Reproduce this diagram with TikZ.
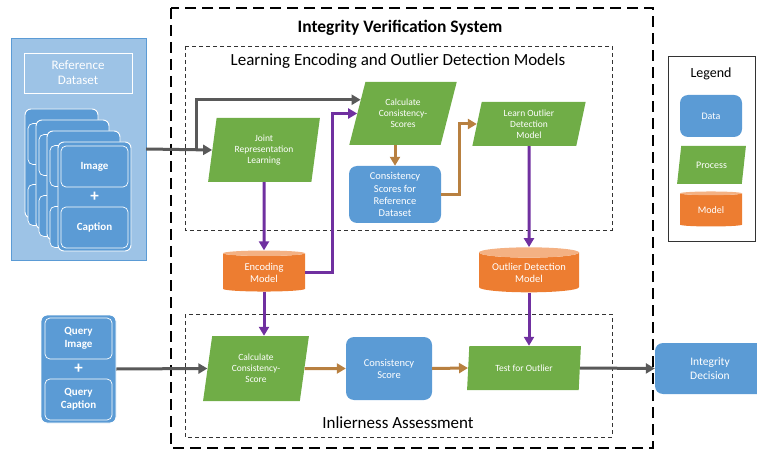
\documentclass[tikz,border=0pt]{standalone}
\usepackage{fontspec}
\setmainfont{Carlito}
\usetikzlibrary{shapes.geometric,arrows.meta,positioning}
\definecolor{datablue}{RGB}{91,155,213}
\definecolor{paleblue}{RGB}{157,195,230}
\definecolor{procgreen}{RGB}{112,173,71}
\definecolor{modelorange}{RGB}{237,125,49}
\definecolor{modeltop}{RGB}{244,177,131}
\definecolor{flowpurple}{RGB}{112,48,160}
\definecolor{flowbrown}{RGB}{184,128,64}
\definecolor{flowgray}{RGB}{89,89,89}
\newcommand{\fs}[1]{\fontsize{#1}{1.15\dimexpr#1pt\relax}\selectfont}

\begin{document}
\begin{tikzpicture}[x=1pt,y=-1pt]
\tikzset{
  data/.style={rectangle, rounded corners=8pt, fill=datablue, text=white,
    align=center, font=\fs{10.5}},
  process/.style={trapezium, trapezium left angle=80, trapezium right angle=100,
    trapezium stretches=true, fill=procgreen, text=white, align=center,
    inner sep=0pt, font=\fs{9.5}},
  model/.style={cylinder, shape border rotate=90, aspect=0.14,
    cylinder uses custom fill, cylinder body fill=modelorange,
    cylinder end fill=modeltop, text=white, align=center, inner sep=0pt,
    font=\fs{10.5}},
  card/.style={rectangle, rounded corners=6pt, draw=white, line width=0.9pt,
    fill=datablue, minimum width=73, minimum height=109},
  cardbox/.style={rectangle, rounded corners=5pt, draw=white, line width=0.7pt,
    fill=datablue, text=white, align=center, minimum width=67,
    minimum height=41, font=\fs{11}\bfseries},
  plus/.style={text=white, font=\fs{17}\bfseries, inner sep=0pt},
  gflow/.style={line width=3pt, draw=flowgray, -{Triangle[length=9pt,width=10pt]}},
  pflow/.style={line width=3pt, draw=flowpurple, -{Triangle[length=9pt,width=10pt]}},
  bflow/.style={line width=3pt, draw=flowbrown, -{Triangle[length=9pt,width=10pt]}},
  frame/.style={font=\fs{17}}
}
\useasboundingbox (0,0) rectangle (757,454);

\draw[line width=2pt, dash pattern=on 11pt off 6pt] (171,8) rectangle (653,448);
\node[font=\fs{17.5}\bfseries] (systitle) at (400,28) {Integrity Verification System};
\draw[line width=0.9pt, dash pattern=on 4pt off 3pt, black!80] (185,46) rectangle (612,230);
\node[frame] (learntitle) at (398,61) {Learning Encoding and Outlier Detection Models};
\draw[line width=0.9pt, dash pattern=on 4pt off 3pt, black!80] (185,314) rectangle (612,437);
\node[frame] (inliertitle) at (398,423) {Inlierness Assessment};

\node[draw=datablue, fill=paleblue, minimum width=135, minimum height=222] (refpanel) at (78.5,149) {};
\node[draw=white, line width=0.8pt, text=white, align=center, minimum width=108,
  minimum height=40, font=\fs{13}] (refname) at (78,73) {Reference\\Dataset};
\foreach \k in {0,1,2} {
  \node[card] (card\k) at (61.5+11*\k,163.5+11*\k) {};
  \node[cardbox] at (61.5+11*\k,144+11*\k) {};
  \node[cardbox] at (61.5+11*\k,205+11*\k) {};
}
\node[card] (card3) at (94.5,196.5) {};
\node[cardbox] (img) at (94.5,166.5) {Image};
\node[cardbox] (cap) at (94.5,227.5) {Caption};
\node[plus] at (94.5,197) {+};

\node[card, minimum width=75, minimum height=108] (query) at (78.5,369) {};
\node[cardbox] (qimg) at (78.5,338.5) {Query\\Image};
\node[cardbox] (qcap) at (78.5,399.5) {Query\\Caption};
\node[plus] at (78.5,369) {+};

\node[process, minimum width=112, minimum height=64] (joint) at (264,150) {Joint\\Representation\\Learning};
\node[process, trapezium left angle=70, trapezium right angle=110,
  minimum width=108, minimum height=63] (calcs) at (403,113.5) {Calculate\\Consistency-\\Scores};
\node[data, minimum width=92, minimum height=57] (csref) at (395,194.5) {Consistency\\Scores for\\Reference\\Dataset};
\node[process, minimum width=114, minimum height=44] (learn) at (529,124) {Learn Outlier\\Detection\\Model};
\node[model, minimum width=82, minimum height=41] (enc) at (264,272.5) {Encoding\\Model};
\node[model, minimum width=100, minimum height=45] (odm) at (529,272.5) {Outlier Detection\\Model};
\node[process, minimum width=106, minimum height=65] (calc) at (256,368.5) {Calculate\\Consistency-\\Score};
\node[data, minimum width=86, minimum height=63] (cs) at (389,368.5) {Consistency\\Score};
\node[process, minimum width=114, minimum height=44] (test) at (524,368) {Test for Outlier};
\node[data, minimum width=110, minimum height=51, font=\fs{11.5}] (decision) at (710,368.5) {Integrity\\Decision};

\draw[line width=1pt, black!80] (668,57) rectangle (755,242);
\node[font=\fs{14}] (legend) at (711,74) {Legend};
\node[data, minimum width=62, minimum height=42, font=\fs{10}] (ldata) at (711,116) {Data};
\node[process, trapezium left angle=72, trapezium right angle=108, minimum width=69,
  minimum height=38, font=\fs{10}] (lproc) at (711.5,165) {Process};
\node[model, minimum width=62, minimum height=35, font=\fs{10}] (lmodel) at (711,210) {Model};

\coordinate (split) at (196,150);
\draw[gflow] (refpanel.east) -- (joint.west);
\draw[gflow] (split) |- (calcs.162);
\draw[pflow] (joint.south) -- (enc.north);
\draw[pflow] (enc.east) -- ++(27,0) |- (calcs.west);
\draw[bflow] (csref.north |- calcs.south) -- (csref.north);
\draw[bflow] (csref.east) -- ++(18,0) |- (learn.west);
\draw[pflow] (learn.south) -- (odm.north);
\draw[pflow] (enc.south) -- (enc.south |- calc.north);
\draw[pflow] (odm.south) -- (odm.south |- test.north);
\draw[gflow] (query.east) -- (calc.west);
\draw[bflow] (calc.east) -- (cs.west);
\draw[bflow] (cs.east) -- (test.west);
\draw[gflow] (test.east) -- (decision.west);
\end{tikzpicture}
\end{document}
